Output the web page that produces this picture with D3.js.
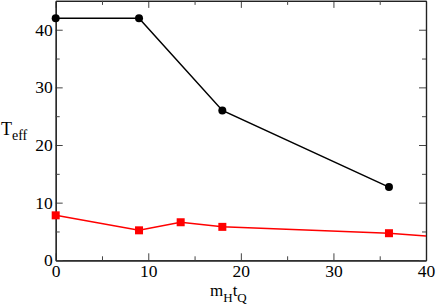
<!DOCTYPE html>
<meta charset="utf-8">
<style>
  body { margin: 0; background: #fff; }
</style>
<svg width="436" height="305"></svg>
<script src="https://cdn.jsdelivr.net/npm/d3@7"></script>
<script>
    // data
    var blackX = [0, 9, 18, 36];
    var blackY = [42, 42, 26, 12.7];
    var redX = [0, 9, 13.5, 18, 36, 40];
    var redY = [7.8, 5.2, 6.6, 5.8, 4.7, 4.2];
    var redMarked = [true, true, true, true, true, false];
    var xTicks = [0, 10, 20, 30, 40];
    var yTicks = [0, 10, 20, 30, 40];
    var xMinor = [5, 15, 25, 35];
    var yMinor = [5, 15, 25, 35];

    var serif = '"Liberation Serif", "Times New Roman", serif';
    var svg = d3.select('svg');
    var x = d3.scaleLinear().domain([0, 40]).range([55.7, 426]);
    var y = d3.scaleLinear().domain([0, 45]).range([260.3, 0.9]);

    var line = d3.line()
        .x(function (d) { return x(d[0]); })
        .y(function (d) { return y(d[1]); });

    var black = blackX.map(function (v, i) { return [v, blackY[i]]; });
    var red = redX.map(function (v, i) { return [v, redY[i], redMarked[i]]; });

    // axes with inward ticks on all four sides
    function minor(a, vals) { return a.tickValues(vals).tickSizeOuter(0).tickSizeInner(-4).tickFormat(''); }

    var axes = svg.append('g').attr('class', 'axes');
    var bottom = axes.append('g').attr('transform', 'translate(0,260.3)')
        .call(d3.axisBottom(x).tickValues(xTicks).tickSizeOuter(0).tickSizeInner(-7).tickPadding(4));
    axes.append('g').attr('transform', 'translate(0,260.3)').call(minor(d3.axisBottom(x), xMinor));
    axes.append('g').attr('transform', 'translate(0,0.9)')
        .call(d3.axisTop(x).tickValues(xTicks).tickSizeOuter(0).tickSizeInner(-7).tickFormat(''));
    axes.append('g').attr('transform', 'translate(0,0.9)').call(minor(d3.axisTop(x), xMinor));
    var left = axes.append('g').attr('transform', 'translate(55.7,0)')
        .call(d3.axisLeft(y).tickValues(yTicks).tickSizeOuter(0).tickSizeInner(-7).tickPadding(3));
    axes.append('g').attr('transform', 'translate(55.7,0)').call(minor(d3.axisLeft(y), yMinor));
    axes.append('g').attr('transform', 'translate(426,0)')
        .call(d3.axisRight(y).tickValues(yTicks).tickSizeOuter(0).tickSizeInner(-7).tickFormat(''));
    axes.append('g').attr('transform', 'translate(426,0)').call(minor(d3.axisRight(y), yMinor));

    axes.selectAll('g').attr('font-family', null).attr('font-size', null);
    axes.selectAll('.domain').attr('stroke', '#222').attr('stroke-width', 1.2);
    axes.selectAll('.tick line').attr('stroke', '#444');
    axes.selectAll('.tick text')
        .style('font-family', serif)
        .style('font-size', '17.5px')
        .attr('fill', '#000');
    left.selectAll('.tick text').attr('dy', '0.32em');

    // series
    svg.append('path').datum(red)
        .attr('fill', 'none').attr('stroke', '#ff0000').attr('stroke-width', 1.5)
        .attr('d', line);
    svg.selectAll('.sq').data(red.filter(function (d) { return d[2]; }))
        .enter().append('rect')
        .attr('class', 'sq')
        .attr('x', function (d) { return x(d[0]) - 4; })
        .attr('y', function (d) { return y(d[1]) - 4; })
        .attr('width', 8).attr('height', 8)
        .attr('fill', '#ff0000');

    svg.append('path').datum(black)
        .attr('fill', 'none').attr('stroke', '#000').attr('stroke-width', 1.5)
        .attr('d', line);
    svg.selectAll('.dot').data(black)
        .enter().append('circle')
        .attr('class', 'dot')
        .attr('cx', function (d) { return x(d[0]); })
        .attr('cy', function (d) { return y(d[1]); })
        .attr('r', 4)
        .attr('fill', '#000');

    // axis titles
    var yl = svg.append('text').attr('x', 1).attr('y', 135).style('font-family', serif).style('font-size', '18px');
    yl.append('tspan').text('T');
    yl.append('tspan').style('font-size', '14px').attr('dy', 5).text('eff');

    var xl = svg.append('text').attr('x', 210).attr('y', 296).style('font-family', serif).style('font-size', '17px');
    xl.append('tspan').text('m');
    xl.append('tspan').style('font-size', '13px').attr('dy', 6).text('H');
    xl.append('tspan').attr('dy', -6).text('t');
    xl.append('tspan').style('font-size', '13px').attr('dy', 6).text('Q');
</script>
